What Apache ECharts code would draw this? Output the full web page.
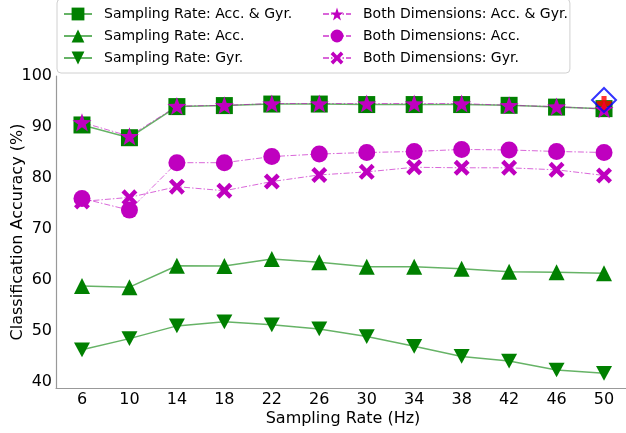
<!DOCTYPE html>
<html><head><meta charset="utf-8">
<script src="https://cdn.jsdelivr.net/npm/echarts@6/dist/echarts.min.js"></script>
<style>html,body{margin:0;padding:0;background:#fff}#c{width:626px;height:433px}</style>
</head><body><div id="c"></div>
<script>
const rates = [6, 10, 14, 18, 22, 26, 30, 34, 38, 42, 46, 50];
const yTicks = [40, 50, 60, 70, 80, 90, 100];
const srAccGyr = [90.4, 87.9, 94.0, 94.2, 94.5, 94.5, 94.4, 94.4, 94.4, 94.25, 93.9, 93.6];
const srAcc = [58.8, 58.6, 62.8, 62.75, 64.1, 63.5, 62.6, 62.6, 62.2, 61.6, 61.5, 61.3];
const srGyr = [46.3, 48.5, 51.0, 51.8, 51.2, 50.4, 48.9, 47.0, 45.0, 44.1, 42.35, 41.7];
const bdAccGyr = [90.9, 88.2, 94.1, 94.25, 94.6, 94.6, 94.6, 94.6, 94.6, 94.25, 94.0, 93.5];
const bdAcc = [76.0, 73.7, 83.0, 83.0, 84.2, 84.7, 85.0, 85.2, 85.6, 85.5, 85.2, 85.0];
const bdGyr = [75.4, 76.2, 78.3, 77.5, 79.3, 80.6, 81.2, 82.1, 82.0, 82.0, 81.6, 80.5];
const bestPoint = [50, 95.3];
const chosenPoint = [50, 94.6];

const names = ['Sampling Rate: Acc. & Gyr.', 'Sampling Rate: Acc.', 'Sampling Rate: Gyr.',
  'Both Dimensions: Acc. & Gyr.', 'Both Dimensions: Acc.', 'Both Dimensions: Gyr.'];

const GREEN = '#008000', MAG = '#bf00bf';
const FONT = 'DejaVu Sans';
const STAR = 'path://M0,-10 L2.35,-3.24 L9.51,-3.09 L3.8,1.24 L5.88,8.09 L0,4 L-5.88,8.09 L-3.8,1.24 L-9.51,-3.09 L-2.35,-3.24 Z';
const XMARK = 'path://M-3,-5 L0,-2 L3,-5 L5,-3 L2,0 L5,3 L3,5 L0,2 L-3,5 L-5,3 L-2,0 L-5,-3 Z';
const PLUS = 'path://M-1.7,-5 L1.7,-5 L1.7,-1.7 L5,-1.7 L5,1.7 L1.7,1.7 L1.7,5 L-1.7,5 L-1.7,1.7 L-5,1.7 L-5,-1.7 L-1.7,-1.7 Z';
const DOWN = 'path://M-5,-4.6 L5,-4.6 L0,4.6 Z';

function pairs(arr) { return rates.map((r, i) => [r, arr[i]]); }

function mk(name, arr, color, symbol, size, dashed) {
  return {
    name, type: 'line', data: pairs(arr), symbol, symbolSize: size, symbolKeepAspect: true,
    itemStyle: { color, opacity: 1 },
    lineStyle: dashed ? { color, width: 1, opacity: 0.6, type: [6, 2, 1.5, 2] }
                      : { color, width: 1.5, opacity: 0.6 },
    emphasis: { disabled: true }, animation: false
  };
}

const chart = echarts.init(document.getElementById('c'));
chart.setOption({
  animation: false,
  grid: { left: 56, right: -4, top: 76, bottom: 45, containLabel: false, outerBoundsMode: 'none' },
  xAxis: {
    type: 'value', min: 3.81, max: 52.19,
    name: 'Sampling Rate (Hz)', nameLocation: 'middle', nameGap: 23, nameMoveOverlap: false,
    nameTextStyle: { fontFamily: FONT, fontSize: 16, color: '#000' },
    axisLine: { show: true, onZero: false, lineStyle: { color: '#999', width: 1.2 } },
    axisTick: { show: false, customValues: rates },
    axisLabel: { customValues: rates, fontFamily: FONT, fontSize: 16, color: '#000', margin: 4 },
    splitLine: { show: false }
  },
  yAxis: {
    type: 'value', min: 38.82, max: 100,
    name: 'Classification Accuracy (%)', nameLocation: 'middle', nameGap: 30, nameMoveOverlap: false,
    nameTextStyle: { fontFamily: FONT, fontSize: 16, color: '#000' },
    axisLine: { show: true, lineStyle: { color: '#999', width: 1.2 } },
    axisTick: { show: false, customValues: yTicks },
    axisLabel: { customValues: yTicks, fontFamily: FONT, fontSize: 16, color: '#000', margin: 4 },
    splitLine: { show: false }
  },
  legend: {
    left: 57, top: -1, width: 505,
    orient: 'horizontal',
    itemWidth: 28, itemHeight: 16, itemGap: 6,
    padding: [7, 2, 7, 6],
    borderColor: '#d0d0d0', borderWidth: 1, borderRadius: 4, backgroundColor: '#fff',
    textStyle: { fontFamily: FONT, fontSize: 14, color: '#000', lineHeight: 16, padding: [0, 0, 0, 7] },
    data: [
      { name: names[0], textStyle: { width: 212 } },
      { name: names[3] },
      { name: names[1], textStyle: { width: 212 } },
      { name: names[4] },
      { name: names[2], textStyle: { width: 212 } },
      { name: names[5] }
    ]
  },
  series: [
    mk(names[0], srAccGyr, GREEN, 'rect', 17, false),
    mk(names[1], srAcc, GREEN, 'triangle', 16, false),
    mk(names[2], srGyr, GREEN, DOWN, 16, false),
    mk(names[3], bdAccGyr, MAG, STAR, 19, true),
    mk(names[4], bdAcc, MAG, 'circle', 17, true),
    mk(names[5], bdGyr, MAG, XMARK, 16, true),
    { name: 'chosen', type: 'scatter', data: [chosenPoint], symbol: PLUS, symbolSize: 15,
      itemStyle: { color: '#ff0000' }, z: 5, emphasis: { disabled: true } },
    { name: 'best', type: 'scatter', data: [bestPoint], symbol: 'diamond', symbolSize: 24,
      itemStyle: { color: 'rgba(0,0,0,0)', borderColor: '#0000ff', borderWidth: 2 }, z: 6, emphasis: { disabled: true } }
  ]
});
</script></body></html>
